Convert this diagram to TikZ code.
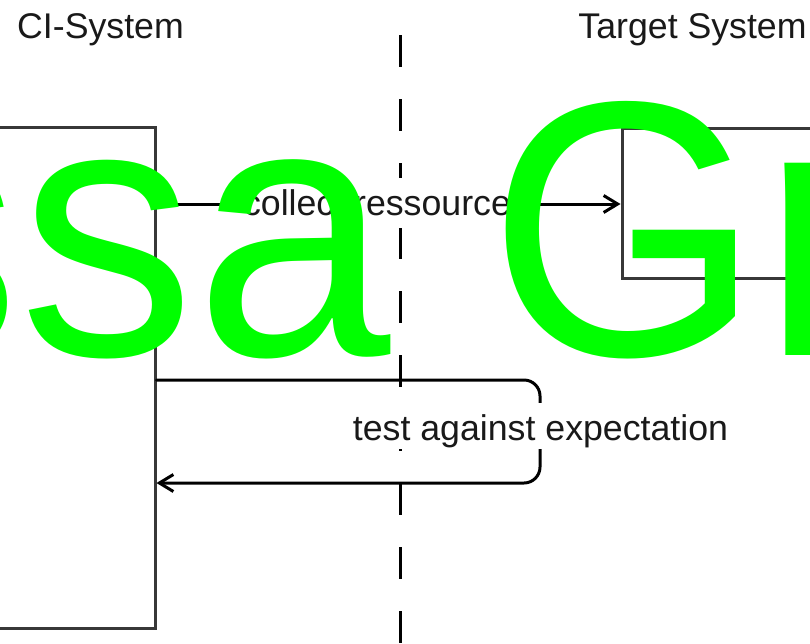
\documentclass[tikz,border=0pt]{standalone}
\usepackage{fontspec}
\setmainfont{Liberation Sans}
\usetikzlibrary{arrows.meta}
\definecolor{wmgreen}{RGB}{0,255,0}
\begin{document}
\begin{tikzpicture}[x=1pt,y=-1pt,
  lbl/.style={font=\fontsize{35.7}{42}\selectfont, text=black!90, inner sep=0pt},
  box/.style={draw=black!78, line width=3pt, inner sep=0pt},
  msg/.style={draw=black, line width=3pt, line cap=round, -{Straight Barb[length=14pt,width=17pt]}},
  sepline/.style={draw=black, line width=3pt, dash pattern=on 32pt off 32pt},
  bg/.style={fill=white, inner xsep=2pt}
]
\useasboundingbox (0,0) rectangle (810,643);
\clip (0,0) rectangle (810,643);
% participants
\node[box, minimum width=175pt, minimum height=501pt] (ci) at (67.5,377.5) {};
\node[box, minimum width=208pt, minimum height=150pt] (ts) at (726,203) {};
% separator
\coordinate (st) at (400,35);
\coordinate (sb) at (400,670);
\draw[sepline] (st) -- (sb);
% headers
\node[lbl, anchor=base] (hci) at (100.5,38) {CI-System};
\node[lbl, anchor=base] (hts) at (692.5,38) {Target System};
% message 1
\coordinate (m1) at (0,204);
\draw[msg] (ci.east |- m1) -- (ts.west |- m1);
\node[lbl, bg, anchor=base, text height=33pt, text depth=9pt, inner ysep=4pt] (l1) at (377,215) {collect ressource};
% self message
\coordinate (lt) at (540,380);
\coordinate (lb) at (540,483);
\draw[msg, rounded corners=16pt] (ci.east |- lt) -- (lt) -- (lb) -- (ci.east |- lb);
\node[lbl, bg, anchor=base, text height=34pt, text depth=6pt, inner ysep=3pt] (l2) at (540.5,440) {test against expectation};
% watermark
\node[font=\fontsize{364}{400}\selectfont, text=wmgreen, anchor=base west, inner sep=0pt] (wm) at (-156,355) {\scalebox{0.965}[1]{ssa Gr}};
\end{tikzpicture}
\end{document}
